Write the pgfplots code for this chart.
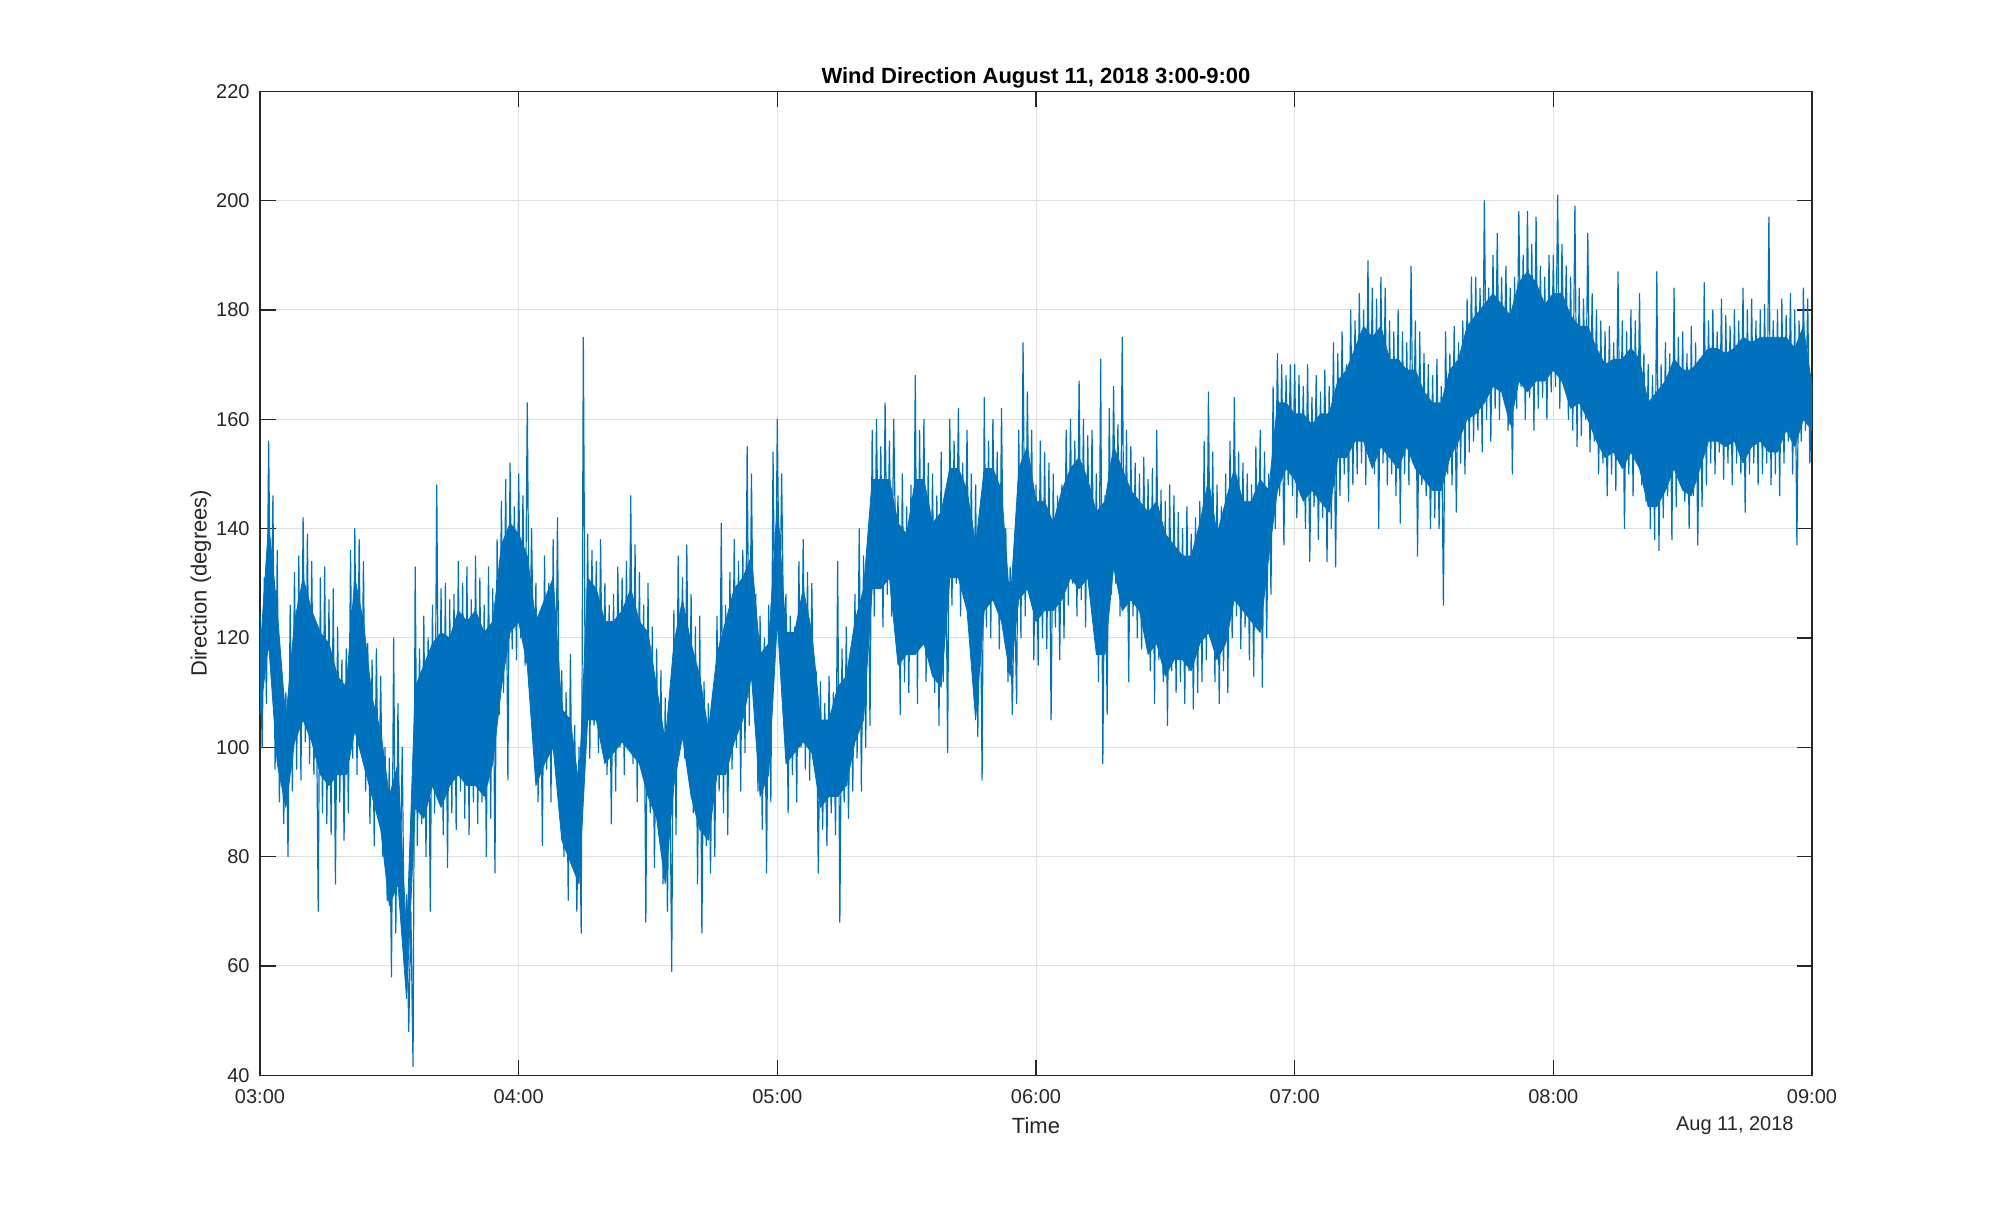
\documentclass[border=0pt]{standalone}
\usepackage{fontspec}
\setmainfont{Liberation Sans}
\usepackage{pgfplots}
\pgfplotsset{compat=1.18}
\definecolor{mblue}{rgb}{0,0.447,0.741}
\definecolor{axgray}{rgb}{0.15,0.15,0.15}
\definecolor{gridgray}{RGB}{223,223,223}
\begin{document}
\begin{tikzpicture}
\path[use as bounding box] (-130pt,-66.35pt) rectangle (871pt,537.65pt);
\begin{axis}[
  at={(0pt,0pt)}, anchor=south west,
  scale only axis, width=776pt, height=492pt,
  xmin=0, xmax=360, ymin=40, ymax=220,
  xtick={0,60,...,360},
  xticklabels={03:00,04:00,05:00,06:00,07:00,08:00,09:00},
  ytick={40,60,...,220},
  tick align=inside, major tick length=7.75pt,
  every tick/.style={axgray, line width=0.6pt},
  axis line style={axgray, line width=0.6pt},
  xmajorgrids, ymajorgrids,
  grid style={gridgray, line width=0.5pt},
  /pgf/number format/assume math mode=true,
  ticklabel style={font=\fontsize{10}{12}\selectfont, text=axgray},
  xticklabel style={anchor=base, yshift=-14pt, inner sep=0pt},
  yticklabel style={anchor=east, inner sep=0pt, xshift=-5pt},
  title={Wind Direction August 11, 2018 3:00-9:00},
  title style={at={(axis description cs:0.5,1)}, anchor=base, yshift=-2pt, inner sep=0pt, font=\fontsize{11}{13}\selectfont\bfseries, text=black},
  xlabel={Time},
  xlabel style={at={(axis description cs:0.5,0)}, anchor=base, yshift=-29pt, inner sep=0pt, font=\fontsize{11}{13}\selectfont, text=axgray},
  ylabel={Direction (degrees)},
  ylabel style={at={(axis description cs:0,0.5)}, anchor=base, yshift=26.7pt, inner sep=0pt, font=\fontsize{11}{13}\selectfont, text=axgray},
]
% dense core of the record (upper edge forward, lower edge back)
\addplot[fill=mblue, draw=mblue, line width=0.4pt, line join=round] coordinates {
(0,117)(2,141)(4,125)(6,105)(8,123)(10,131)(12,125)(14,121)(16,119)(18,113)(20,111)(22,131)(24,123)(26,109)(28,103)(30,91)(32,97)(34,65)(36,111)(38,115)(40,119)(42,121)(44,120)(46,125)(48,123)(50,125)(52,121)(54,123)(56,137)(58,141)
(60,139)(62,135)(64,123)(66,127)(68,131)(70,107)(72,105)(74,93)(76,131)(78,129)(80,123)(82,123)(84,125)(86,129)(88,123)(90,121)(92,111)(94,101)(96,119)(98,127)(100,119)(102,113)(104,103)(106,117)(108,123)(110,129)(112,131)(114,135)(116,117)(118,119)
(120,145)(122,121)(124,121)(126,129)(128,121)(130,105)(132,105)(134,111)(136,113)(138,123)(140,129)(142,149)(144,149)(146,149)(148,141)(150,139)(152,149)(154,149)(156,141)(158,143)(160,151)(162,151)(164,147)(166,137)(168,151)(170,151)(172,147)(174,126)(176,151)(178,155)
(180,145)(182,145)(184,141)(186,147)(188,151)(190,153)(192,149)(194,143)(196,145)(198,155)(200,151)(202,147)(204,145)(206,143)(208,145)(210,139)(212,137)(214,135)(216,135)(218,141)(220,149)(222,139)(224,145)(226,151)(228,145)(230,145)(232,149)(234,147)(236,163)(238,163)
(240,161)(242,161)(244,159)(246,161)(248,161)(250,167)(252,169)(254,173)(256,177)(258,175)(260,177)(262,171)(264,171)(266,169)(268,169)(270,165)(272,163)(274,163)(276,169)(278,171)(280,177)(282,179)(284,181)(286,183)(288,181)(290,179)(292,185)(294,187)(296,185)(298,181)
(300,183)(302,183)(304,179)(306,177)(308,177)(310,173)(312,170)(314,171)(316,171)(318,173)(320,171)(322,163)(324,165)(326,167)(328,171)(330,169)(332,169)(334,171)(336,173)(338,173)(340,172)(342,173)(344,175)(346,174)(348,175)(350,175)(352,175)(354,175)(356,173)(358,177)(360,166)
(360,158)(358,160)(356,155)(354,158)(352,154)(350,154)(348,156)(346,155)(344,152)(342,156)(340,155)(338,156)(336,156)(334,151)(332,146)(330,147)(328,151)(326,147)(324,144)(322,144)(320,151)(318,154)(316,151)(314,154)(312,153)(310,156)(308,160)(306,163)(304,162)(302,167)(300,169)
(298,167)(296,167)(294,165)(292,167)(290,159)(288,165)(286,166)(284,163)(282,161)(280,160)(278,156)(276,153)(274,147)(272,147)(270,149)(268,151)(266,155)(264,151)(262,153)(260,155)(258,151)(256,156)(254,156)(252,153)(250,153)(248,143)(246,145)(244,147)(242,145)(240,149)
(238,151)(236,147)(234,135)(232,121)(230,123)(228,125)(226,127)(224,119)(222,116)(220,121)(218,119)(216,114)(214,116)(212,116)(210,113)(208,119)(206,117)(204,125)(202,127)(200,125)(198,133)(196,117)(194,117)(192,131)(190,129)(188,131)(186,127)(184,125)(182,125)(180,123)
(178,129)(176,127)(174,113)(172,123)(170,127)(168,125)(166,105)(164,125)(162,131)(160,131)(158,111)(156,113)(154,119)(152,117)(150,117)(148,115)(146,131)(144,129)(142,129)(140,105)(138,101)(136,93)(134,91)(132,91)(130,89)(128,99)(126,101)(124,99)(122,97)(120,123)
(118,95)(116,91)(114,113)(112,105)(110,101)(108,95)(106,95)(104,83)(102,85)(100,91)(98,102)(96,93)(94,75)(92,87)(90,91)(88,97)(86,99)(84,101)(82,99)(80,97)(78,105)(76,105)(74,75)(72,79)(70,83)(68,100)(66,97)(64,93)(62,115)(60,123)
(58,121)(56,111)(54,97)(52,91)(50,93)(48,93)(46,95)(44,93)(42,89)(40,93)(38,87)(36,89)(34,54)(32,75)(30,71)(28,85)(26,91)(24,97)(22,103)(20,95)(18,95)(16,93)(14,95)(12,101)(10,105)(8,101)(6,89)(4,97)(2,119)(0,106)
};
% half-minute extremes of the record
\addplot[mblue, line width=0.6pt, line join=round] coordinates {
(0,124)(0.5,100)(1,131)(1.5,108)(2,156)(2.5,118)(3,146)(3.5,96)(4,136)(4.5,90)
(5,113)(5.5,86)(6,110)(6.5,80)(7,126)(7.5,92)(8,132)(8.5,96)(9,135)(9.5,94)
(10,142)(10.5,101)(11,139)(11.5,97)(12,134)(12.5,95)(13,118)(13.5,70)(14,131)(14.5,88)
(15,133)(15.5,86)(16,127)(16.5,84)(17,129)(17.5,75)(18,122)(18.5,90)(19,116)(19.5,83)
(20,118)(20.5,88)(21,136)(21.5,98)(22,140)(22.5,95)(23,138)(23.5,100)(24,134)(24.5,92)
(25,119)(25.5,86)(26,116)(26.5,82)(27,118)(27.5,87)(28,113)(28.5,80)(29,100)(29.5,72)
(30,98)(30.5,58)(31,120)(31.5,66)(32,108)(32.5,74)(33,100)(33.5,60)(34,73)(34.5,48)
(35,70)(35.5,41.6)(36,133)(36.5,82)(37,118)(37.5,86)(38,124)(38.5,80)(39,120)(39.5,70)
(40,126)(40.5,88)(41,148)(41.5,90)(42,129)(42.5,84)(43,130)(43.5,78)(44,127)(44.5,88)
(45,128)(45.5,85)(46,134)(46.5,92)(47,130)(47.5,87)(48,133)(48.5,84)(49,127)(49.5,90)
(50,135)(50.5,86)(51,131)(51.5,90)(52,126)(52.5,80)(53,133)(53.5,87)(54,129)(54.5,77)
(55,138)(55.5,106)(56,145)(56.5,110)(57,149)(57.5,94)(58,152)(58.5,118)(59,144)(59.5,116)
(60,150)(60.5,120)(61,146)(61.5,115)(62,163)(62.5,112)(63,140)(63.5,111)(64,130)(64.5,90)
(65,124)(65.5,82)(66,135)(66.5,96)(67,130)(67.5,90)(68,138)(68.5,97)(69,142)(69.5,94)
(70,114)(70.5,80)(71,110)(71.5,72)(72,117)(72.5,78)(73,104)(73.5,70)(74,100)(74.5,66)
(75,175)(75.5,100)(76,139)(76.5,98)(77,136)(77.5,104)(78,134)(78.5,99)(79,138)(79.5,101)
(80,130)(80.5,95)(81,126)(81.5,86)(82,128)(82.5,92)(83,133)(83.5,100)(84,131)(84.5,95)
(85,134)(85.5,102)(86,146)(86.5,97)(87,137)(87.5,90)(88,132)(88.5,96)(89,126)(89.5,68)
(90,130)(90.5,88)(91,122)(91.5,78)(92,118)(92.5,84)(93,114)(93.5,75)(94,109)(94.5,70)
(95,103)(95.5,59)(96,125)(96.5,84)(97,135)(97.5,100)(98,131)(98.5,98)(99,137)(99.5,96)
(100,128)(100.5,88)(101,122)(101.5,75)(102,124)(102.5,66)(103,112)(103.5,82)(104,108)(104.5,77)
(105,110)(105.5,80)(106,124)(106.5,92)(107,141)(107.5,88)(108,126)(108.5,84)(109,132)(109.5,96)
(110,138)(110.5,100)(111,134)(111.5,92)(112,136)(112.5,99)(113,155)(113.5,104)(114,150)(114.5,112)
(115,128)(115.5,92)(116,124)(116.5,85)(117,120)(117.5,77)(118,126)(118.5,90)(119,154)(119.5,118)
(120,160)(120.5,120)(121,150)(121.5,118)(122,128)(122.5,88)(123,124)(123.5,95)(124,122)(124.5,90)
(125,134)(125.5,100)(126,138)(126.5,96)(127,132)(127.5,94)(128,130)(128.5,99)(129,114)(129.5,77)
(130,112)(130.5,85)(131,108)(131.5,82)(132,113)(132.5,88)(133,110)(133.5,84)(134,134)(134.5,68)
(135,118)(135.5,90)(136,122)(136.5,87)(137,117)(137.5,92)(138,128)(138.5,98)(139,140)(139.5,92)
(140,135)(140.5,100)(141,138)(141.5,104)(142,158)(142.5,124)(143,160)(143.5,130)(144,155)(144.5,122)
(145,163)(145.5,128)(146,156)(146.5,124)(147,160)(147.5,133)(148,146)(148.5,106)(149,150)(149.5,112)
(150,144)(150.5,110)(151,148)(151.5,118)(152,168)(152.5,108)(153,158)(153.5,120)(154,160)(154.5,112)
(155,152)(155.5,118)(156,150)(156.5,110)(157,146)(157.5,104)(158,154)(158.5,112)(159,147)(159.5,99)
(160,160)(160.5,126)(161,156)(161.5,130)(162,162)(162.5,124)(163,152)(163.5,128)(164,158)(164.5,122)
(165,150)(165.5,118)(166,148)(166.5,102)(167,138)(167.5,94)(168,164)(168.5,122)(169,156)(169.5,120)
(170,160)(170.5,128)(171,154)(171.5,118)(172,162)(172.5,124)(173,140)(173.5,112)(174,133)(174.5,106)
(175,130)(175.5,108)(176,158)(176.5,120)(177,174)(177.5,124)(178,165)(178.5,132)(179,158)(179.5,116)
(180,148)(180.5,115)(181,156)(181.5,120)(182,154)(182.5,118)(183,152)(183.5,105)(184,150)(184.5,122)
(185,146)(185.5,116)(186,148)(186.5,120)(187,158)(187.5,126)(188,160)(188.5,130)(189,156)(189.5,124)
(190,167)(190.5,127)(191,160)(191.5,122)(192,157)(192.5,128)(193,158)(193.5,124)(194,150)(194.5,112)
(195,171)(195.5,97)(196,146)(196.5,106)(197,162)(197.5,128)(198,166)(198.5,130)(199,159)(199.5,124)
(200,175)(200.5,126)(201,158)(201.5,112)(202,155)(202.5,124)(203,152)(203.5,120)(204,150)(204.5,118)
(205,153)(205.5,122)(206,149)(206.5,114)(207,151)(207.5,108)(208,158)(208.5,116)(209,147)(209.5,112)
(210,145)(210.5,104)(211,148)(211.5,114)(212,146)(212.5,110)(213,143)(213.5,112)(214,140)(214.5,108)
(215,144)(215.5,114)(216,139)(216.5,107)(217,142)(217.5,110)(218,145)(218.5,112)(219,156)(219.5,116)
(220,165)(220.5,120)(221,154)(221.5,112)(222,148)(222.5,108)(223,144)(223.5,114)(224,150)(224.5,110)
(225,156)(225.5,120)(226,164)(226.5,124)(227,154)(227.5,118)(228,152)(228.5,122)(229,150)(229.5,116)
(230,148)(230.5,113)(231,155)(231.5,124)(232,158)(232.5,111)(233,154)(233.5,120)(234,150)(234.5,128)
(235,166)(235.5,140)(236,172)(236.5,146)(237,170)(237.5,137)(238,168)(238.5,148)(239,170)(239.5,146)
(240,170)(240.5,142)(241,168)(241.5,146)(242,166)(242.5,140)(243,170)(243.5,134)(244,164)(244.5,144)
(245,168)(245.5,138)(246,165)(246.5,142)(247,169)(247.5,134)(248,166)(248.5,140)(249,174)(249.5,133)
(250,172)(250.5,146)(251,176)(251.5,150)(252,170)(252.5,145)(253,180)(253.5,148)(254,178)(254.5,150)
(255,183)(255.5,152)(256,180)(256.5,148)(257,189)(257.5,154)(258,184)(258.5,150)(259,182)(259.5,140)
(260,186)(260.5,152)(261,184)(261.5,148)(262,178)(262.5,150)(263,176)(263.5,146)(264,180)(264.5,141)
(265,176)(265.5,150)(266,174)(266.5,148)(267,188)(267.5,152)(268,178)(268.5,135)(269,176)(269.5,148)
(270,172)(270.5,146)(271,170)(271.5,140)(272,168)(272.5,142)(273,171)(273.5,140)(274,166)(274.5,126)
(275,176)(275.5,150)(276,172)(276.5,148)(277,177)(277.5,143)(278,174)(278.5,152)(279,178)(279.5,150)
(280,182)(280.5,154)(281,186)(281.5,156)(282,186)(282.5,158)(283,184)(283.5,154)(284,200)(284.5,160)
(285,184)(285.5,156)(286,190)(286.5,162)(287,194)(287.5,160)(288,186)(288.5,164)(289,188)(289.5,158)
(290,184)(290.5,150)(291,186)(291.5,162)(292,198)(292.5,166)(293,190)(293.5,160)(294,198)(294.5,164)
(295,192)(295.5,158)(296,197)(296.5,162)(297,188)(297.5,164)(298,186)(298.5,160)(299,190)(299.5,165)
(300,190)(300.5,166)(301,201)(301.5,162)(302,192)(302.5,168)(303,188)(303.5,160)(304,186)(304.5,158)
(305,199)(305.5,155)(306,184)(306.5,157)(307,182)(307.5,160)(308,194)(308.5,154)(309,183)(309.5,156)
(310,180)(310.5,150)(311,178)(311.5,152)(312,176)(312.5,146)(313,177)(313.5,150)(314,174)(314.5,147)
(315,187)(315.5,152)(316,178)(316.5,140)(317,176)(317.5,150)(318,180)(318.5,146)(319,178)(319.5,152)
(320,183)(320.5,148)(321,172)(321.5,145)(322,170)(322.5,140)(323,168)(323.5,138)(324,187)(324.5,136)
(325,170)(325.5,142)(326,174)(326.5,146)(327,172)(327.5,138)(328,184)(328.5,144)(329,175)(329.5,148)
(330,176)(330.5,145)(331,172)(331.5,140)(332,177)(332.5,146)(333,174)(333.5,137)(334,171)(334.5,144)
(335,185)(335.5,148)(336,178)(336.5,152)(337,180)(337.5,150)(338,176)(338.5,154)(339,182)(339.5,149)
(340,179)(340.5,152)(341,177)(341.5,148)(342,180)(342.5,152)(343,178)(343.5,150)(344,184)(344.5,143)
(345,180)(345.5,150)(346,182)(346.5,152)(347,178)(347.5,148)(348,180)(348.5,150)(349,181)(349.5,152)
(350,197)(350.5,148)(351,178)(351.5,150)(352,180)(352.5,146)(353,182)(353.5,152)(354,179)(354.5,156)
(355,183)(355.5,150)(356,180)(356.5,137)(357,178)(357.5,156)(358,184)(358.5,158)(359,182)(359.5,152)
(360,168)
};
\end{axis}
\node[anchor=base east, inner sep=0pt, font=\fontsize{10}{12}\selectfont, text=axgray] at (767pt,-27.4pt) {Aug 11, 2018};
\end{tikzpicture}
\end{document}
